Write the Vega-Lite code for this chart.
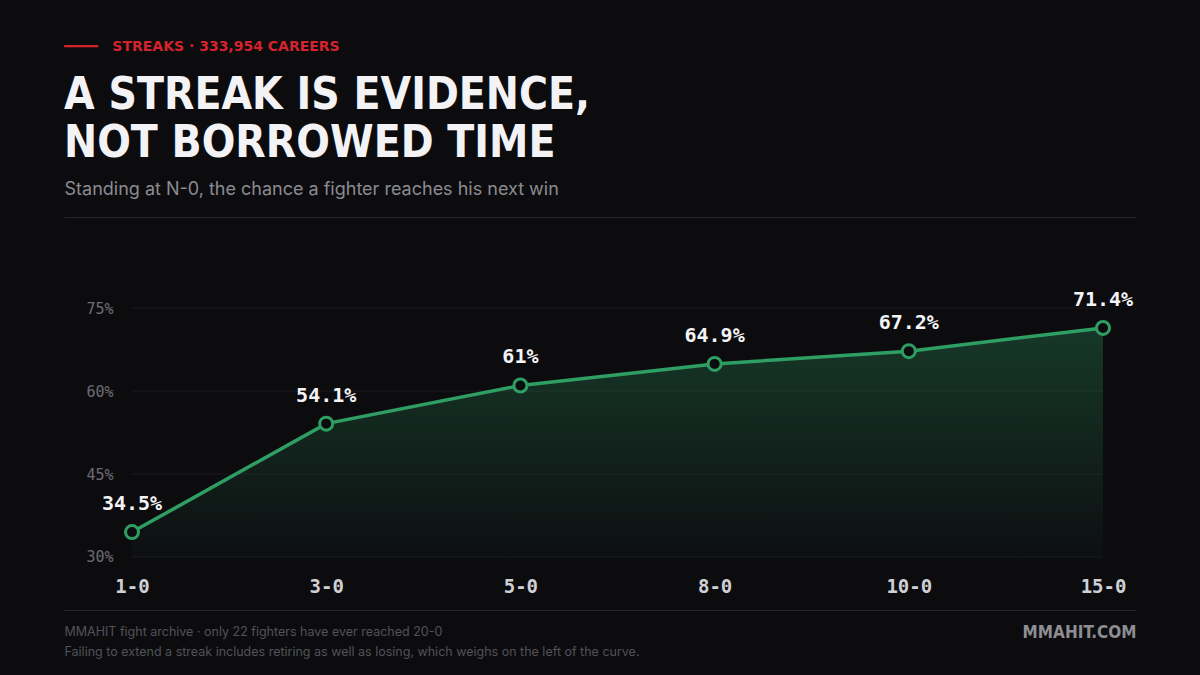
{
  "$schema": "https://vega.github.io/schema/vega-lite/v6.json",
  "width": 1072,
  "height": 393,
  "autosize": {"type": "none"},
  "padding": {"left": 64, "top": 217, "right": 64, "bottom": 65},
  "background": "#0c0c0f",
  "config": {
    "view": {"stroke": "#26262c", "strokeWidth": 1, "strokeDash": [1072, 393]}
  },
  "title": {
    "text": "━━━━\u00a0\u00a0\u00a0STREAKS · 333,954 CAREERS",
    "subtitle": ["A STREAK IS EVIDENCE,", "NOT BORROWED TIME"],
    "anchor": "start",
    "frame": "group",
    "orient": "top",
    "font": "DejaVu Sans, sans-serif",
    "fontSize": 14,
    "fontWeight": "bold",
    "color": "#d4232d",
    "subtitleFont": "DejaVu Sans Condensed, sans-serif",
    "subtitleFontSize": 44,
    "subtitleFontWeight": "bold",
    "subtitleColor": "#f3f3f5",
    "subtitleLineHeight": 48,
    "subtitlePadding": 20,
    "offset": 14
  },
  "datasets": {
    "streak": [
      {"record": "1-0", "pct": 34.5, "label": "34.5%"},
      {"record": "3-0", "pct": 54.1, "label": "54.1%"},
      {"record": "5-0", "pct": 61.0, "label": "61%"},
      {"record": "8-0", "pct": 64.9, "label": "64.9%"},
      {"record": "10-0", "pct": 67.2, "label": "67.2%"},
      {"record": "15-0", "pct": 71.4, "label": "71.4%"}
    ],
    "grid": [{"v": 30}, {"v": 45}, {"v": 60}, {"v": 75}]
  },
  "resolve": {"axis": {"x": "independent", "y": "independent"}},
  "layer": [
    {
      "data": {"name": "grid"},
      "mark": {"type": "rule", "color": "#1b1b20", "strokeWidth": 1},
      "encoding": {
        "x": {"datum": "1-0", "type": "ordinal", "axis": null},
        "x2": {"datum": "15-0"},
        "y": {"field": "v", "type": "quantitative", "axis": null}
      }
    },
    {
      "data": {"name": "streak"},
      "mark": {
        "type": "area",
        "fill": {
          "gradient": "linear",
          "x1": 0, "y1": 0, "x2": 0, "y2": 1,
          "stops": [
            {"offset": 0, "color": "rgba(46,158,99,0.30)"},
            {"offset": 1, "color": "rgba(46,158,99,0.02)"}
          ]
        }
      },
      "encoding": {
        "x": {
          "field": "record",
          "type": "ordinal",
          "scale": {"type": "point", "domain": ["1-0", "3-0", "5-0", "8-0", "10-0", "15-0"], "range": [68, 1039], "padding": 0},
          "axis": {
            "orient": "bottom",
            "domain": false,
            "ticks": false,
            "tickSize": 0,
            "grid": false,
            "labelAngle": 0,
            "labelPadding": -24,
            "labelBaseline": "middle",
            "labelFont": "DejaVu Sans Mono",
            "labelFontSize": 19,
            "labelFontWeight": "bold",
            "labelColor": "#cfd0d4",
            "title": ["MMAHIT fight archive · only 22 fighters have ever reached 20-0", "Failing to extend a streak includes retiring as well as losing, which weighs on the left of the curve."],
            "titleAnchor": "start",
            "titleAlign": "left",
            "titleX": 0,
            "titleY": 15,
            "titleBaseline": "top",
            "titleLineHeight": 20,
            "titleFont": "Inter",
            "titleFontSize": 12.5,
            "titleFontWeight": "normal",
            "titleColor": "#525258"
          }
        },
        "y": {
          "field": "pct",
          "type": "quantitative",
          "scale": {"domain": [20.42, 91.45], "nice": false, "zero": false},
          "axis": {
            "orient": "left",
            "values": [30, 45, 60, 75],
            "labelExpr": "datum.value + '%'",
            "domain": false,
            "ticks": false,
            "tickSize": 0,
            "grid": false,
            "labelAlign": "right",
            "labelBaseline": "middle",
            "labelPadding": -49,
            "labelFont": "DejaVu Sans Mono",
            "labelFontSize": 15,
            "labelColor": "#6c6c72",
            "title": "Standing at N-0, the chance a fighter reaches his next win",
            "titleAngle": 0,
            "titleX": 0,
            "titleY": -28,
            "titleAlign": "left",
            "titleBaseline": "middle",
            "titleFont": "Inter",
            "titleFontSize": 18,
            "titleFontWeight": "normal",
            "titleColor": "#8b8b91"
          }
        },
        "y2": {"datum": 30}
      }
    },
    {
      "data": {"name": "streak"},
      "mark": {"type": "line", "color": "#2e9e63", "strokeWidth": 3.5},
      "encoding": {
        "x": {"field": "record", "type": "ordinal", "axis": null},
        "y": {"field": "pct", "type": "quantitative", "axis": null}
      }
    },
    {
      "data": {"name": "streak"},
      "mark": {"type": "point", "filled": true, "fill": "#0c0c0f", "stroke": "#2e9e63", "strokeWidth": 3, "size": 170, "opacity": 1},
      "encoding": {
        "x": {"field": "record", "type": "ordinal", "axis": null},
        "y": {"field": "pct", "type": "quantitative", "axis": null}
      }
    },
    {
      "data": {"name": "streak"},
      "mark": {"type": "text", "font": "DejaVu Sans Mono", "fontSize": 20, "fontWeight": "bold", "color": "#f4f4f6", "dy": -28, "baseline": "middle"},
      "encoding": {
        "x": {"field": "record", "type": "ordinal", "axis": null},
        "y": {
          "field": "pct",
          "type": "quantitative",
          "axis": {
            "orient": "right",
            "labels": false,
            "ticks": false,
            "domain": false,
            "grid": false,
            "title": "MMAHIT.COM",
            "titleAngle": 0,
            "titleX": 0,
            "titleY": 415,
            "titleAlign": "right",
            "titleBaseline": "middle",
            "titleFont": "DejaVu Sans Condensed, sans-serif",
            "titleFontSize": 17,
            "titleFontWeight": "bold",
            "titleColor": "#8d8d93"
          }
        },
        "text": {"field": "label"}
      }
    }
  ]
}
